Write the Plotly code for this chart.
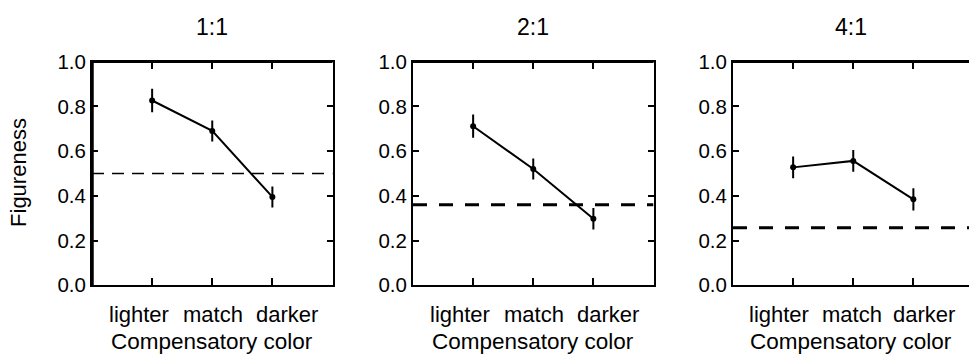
import plotly.graph_objects as go

# ---- data -------------------------------------------------------------
categories = ["lighter", "match", "darker"]
panel_titles = ["1:1", "2:1", "4:1"]

figureness_1to1 = [0.826, 0.690, 0.395]
figureness_2to1 = [0.711, 0.520, 0.297]
figureness_4to1 = [0.527, 0.556, 0.384]

sem_1to1 = [0.052, 0.047, 0.047]
sem_2to1 = [0.052, 0.047, 0.048]
sem_4to1 = [0.049, 0.049, 0.050]

chance_level = [0.50, 0.36, 0.257]

y_tick_values = [0.0, 0.2, 0.4, 0.6, 0.8, 1.0]

# ---- layout constants --------------------------------------------------
W, H = 969, 358
FONT = "Liberation Sans, Arial, Helvetica, sans-serif"
panel_left = [92, 413, 733]       # px
panel_w = 240.5                   # px
plot_top, plot_bottom = 53, 292   # px
label_pos = [0.195, 0.505, 0.81]  # category labels, fraction of panel width
dash_width = [1.5, 3, 3]
dash_style = ["12px,8px", "14px,12px", "14px,12px"]

series = [figureness_1to1, figureness_2to1, figureness_4to1]
errors = [sem_1to1, sem_2to1, sem_4to1]

fig = go.Figure()
layout = dict(
    width=W, height=H,
    margin=dict(l=0, r=0, t=0, b=0),
    paper_bgcolor="white", plot_bgcolor="white",
    showlegend=False,
    font=dict(family=FONT, color="black"),
)
annotations = []
shapes = []

ydom = [(H - plot_bottom) / H, (H - plot_top) / H]
x_cats = [1, 2, 3]

for i in range(3):
    n = "" if i == 0 else str(i + 1)
    x0 = panel_left[i] / W
    x1 = min(1.0, (panel_left[i] + panel_w) / W)
    xmax = 4 * (x1 - x0) * W / panel_w
    last = i == 2

    # chance level (dashed)
    fig.add_trace(go.Scatter(
        x=[0, 4], y=[chance_level[i], chance_level[i]],
        mode="lines", xaxis="x" + n, yaxis="y" + n,
        line=dict(color="black", width=dash_width[i], dash=dash_style[i]),
        hoverinfo="skip",
    ))
    # mean figureness with error bars
    fig.add_trace(go.Scatter(
        x=x_cats, y=series[i],
        mode="lines+markers", xaxis="x" + n, yaxis="y" + n,
        line=dict(color="black", width=2),
        marker=dict(color="black", size=6),
        error_y=dict(type="data", array=errors[i], color="black",
                     thickness=2, width=0),
        cliponaxis=False,
    ))

    layout["xaxis" + n] = dict(
        domain=[x0, x1], range=[0, xmax], anchor="y" + n,
        tickvals=x_cats, showticklabels=False,
        ticks="inside", ticklen=7, tickwidth=2, tickcolor="black",
        showline=True, linewidth=2, linecolor="black", mirror="ticks",
        showgrid=False, zeroline=False, fixedrange=True,
    )
    layout["yaxis" + n] = dict(
        domain=ydom, range=[0, 1], anchor="x" + n,
        tickvals=y_tick_values, tickformat=".1f",
        ticks="inside", ticklen=6, tickwidth=2, tickcolor="black",
        tickfont=dict(size=20.5, family=FONT),
        showline=True, linewidth=2, linecolor="black",
        mirror=False if last else "ticks",
        showgrid=False, zeroline=False, fixedrange=True,
    )

    # thick top frame line
    shapes.append(dict(type="line", xref="x%s domain" % n, yref="y%s domain" % n,
                       x0=-0.006, x1=1.0, y0=1, y1=1,
                       line=dict(color="black", width=3)))
    if i == 0:
        shapes.append(dict(type="line", xref="x domain", yref="y domain",
                           x0=0, x1=0, y0=-0.004, y1=1.006,
                           line=dict(color="black", width=3.5)))

    # panel title
    annotations.append(dict(
        text=panel_titles[i], xref="x%s domain" % n, yref="paper",
        x=0.5, y=(H - 16) / H, xanchor="center", yanchor="middle",
        showarrow=False, font=dict(size=23, family=FONT),
    ))
    # category labels
    for c, cat in enumerate(categories):
        annotations.append(dict(
            text=cat, xref="x%s domain" % n, yref="paper",
            x=label_pos[c], y=(H - 323) / H, xanchor="center", yanchor="middle",
            showarrow=False, font=dict(size=22, family=FONT),
        ))
    # x-axis title
    annotations.append(dict(
        text="Compensatory color", xref="x%s domain" % n, yref="paper",
        x=0.5, y=(H - 352) / H, xanchor="center", yanchor="middle",
        showarrow=False, font=dict(size=22.5, family=FONT),
    ))

# right-hand tick marks for the last panel (its frame runs off the page)
layout["yaxis4"] = dict(
    domain=ydom, range=[0, 1], overlaying="y3", anchor="x3", side="right",
    tickvals=y_tick_values, showticklabels=False,
    ticks="inside", ticklen=6, tickwidth=2, tickcolor="black",
    showline=False, showgrid=False, zeroline=False, fixedrange=True,
)

# shared y-axis title
annotations.append(dict(
    text="Figureness", xref="paper", yref="paper",
    x=19 / W, y=(H - 172) / H, xanchor="center", yanchor="middle",
    textangle=-90, showarrow=False, font=dict(size=22, family=FONT),
))

layout["annotations"] = annotations
layout["shapes"] = shapes
fig.update_layout(**layout)

fig.write_html("out.html", config={"displayModeBar": False, "staticPlot": True})
